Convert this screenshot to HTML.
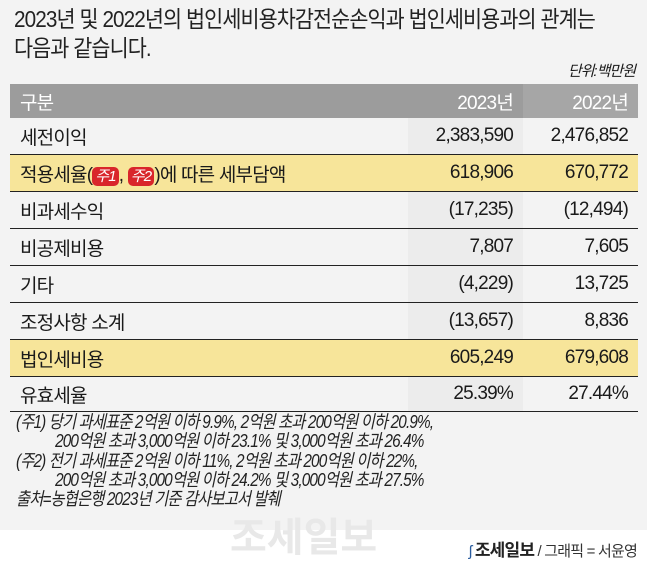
<!DOCTYPE html>
<html><head><meta charset="utf-8"><style>
body{margin:0;width:647px;height:560px;background:#fff;font-family:"Liberation Sans","Noto Sans CJK KR",sans-serif;color:#1a1a1a;overflow:hidden;position:relative}
.bg{position:absolute;left:0;top:0;width:647px;height:530px;background:#f3f3f3}
.title{position:absolute;left:14px;top:5px;font-size:23px;line-height:29px;letter-spacing:-1px;color:#222;white-space:nowrap;transform:scaleX(0.9);transform-origin:left top}
.unit{position:absolute;right:12px;top:60px;font-size:15px;font-style:italic;letter-spacing:-1px}
table{position:absolute;left:10px;top:84px;width:628px;border-collapse:collapse;font-size:19px;letter-spacing:-0.8px}
td{height:36px;padding:0;border-bottom:1px solid #222}
td.l{padding-left:10px;width:388px}
td.n{text-align:right;padding-right:10px;width:105px;background:#ececec}
tr.h td{background:#9c9c9c;color:#fff;height:34px;border-bottom:none}
tr.y td{background:#f7e59a}
tr.last td{border-bottom:1px solid #222;height:34px}
.tag{display:inline-block;background:#d9262b;color:#fff;border-radius:5px;padding:0 3px;font-size:15px;font-style:italic;line-height:19px}
.notes{position:absolute;left:16px;top:413px;font-size:18px;line-height:19.3px;font-style:italic;letter-spacing:-1px;color:#222;white-space:nowrap;transform:scaleX(0.85);transform-origin:left top}
.notes .i{padding-left:46px}
.wm{position:absolute;left:230px;top:505px;font-size:40px;color:#e8e8e8;font-weight:bold}
.logo{position:absolute;right:10px;top:536px;font-size:15px;letter-spacing:-0.8px;color:#333}
.logo b{font-size:17px;color:#222}
</style></head><body>
<div class="bg"></div>
<div class="title">2023년 및 2022년의 법인세비용차감전순손익과 법인세비용과의 관계는<br>다음과 같습니다.</div>
<div class="unit">단위:백만원</div>
<table>
<tr class="h"><td class="l">구분</td><td class="n" style="background:#9c9c9c">2023년</td><td class="n" style="background:#a6a6a6">2022년</td></tr>
<tr><td class="l">세전이익</td><td class="n">2,383,590</td><td class="n" style="background:#f3f3f3">2,476,852</td></tr>
<tr class="y"><td class="l">적용세율(<span class="tag">주1</span>, <span class="tag">주2</span>)에 따른 세부담액</td><td class="n">618,906</td><td class="n">670,772</td></tr>
<tr><td class="l">비과세수익</td><td class="n">(17,235)</td><td class="n" style="background:#f3f3f3">(12,494)</td></tr>
<tr><td class="l">비공제비용</td><td class="n">7,807</td><td class="n" style="background:#f3f3f3">7,605</td></tr>
<tr><td class="l">기타</td><td class="n">(4,229)</td><td class="n" style="background:#f3f3f3">13,725</td></tr>
<tr><td class="l">조정사항 소계</td><td class="n">(13,657)</td><td class="n" style="background:#f3f3f3">8,836</td></tr>
<tr class="y"><td class="l">법인세비용</td><td class="n">605,249</td><td class="n">679,608</td></tr>
<tr class="last"><td class="l">유효세율</td><td class="n">25.39%</td><td class="n" style="background:#f3f3f3">27.44%</td></tr>
</table>
<div class="notes">
<div>(주1) 당기 과세표준 2억원 이하 9.9%, 2억원 초과 200억원 이하 20.9%,</div>
<div class="i">200억원 초과 3,000억원 이하 23.1% 및 3,000억원 초과 26.4%</div>
<div>(주2) 전기 과세표준 2억원 이하 11%, 2억원 초과 200억원 이하 22%,</div>
<div class="i">200억원 초과 3,000억원 이하 24.2% 및 3,000억원 초과 27.5%</div>
<div>출처=농협은행 2023년 기준 감사보고서 발췌</div>
</div>
<div class="wm">조세일보</div>
<div class="logo"><span style="color:#2a5d9f">ʃ</span> <b>조세일보</b> / 그래픽 = 서윤영</div>
</body></html>
